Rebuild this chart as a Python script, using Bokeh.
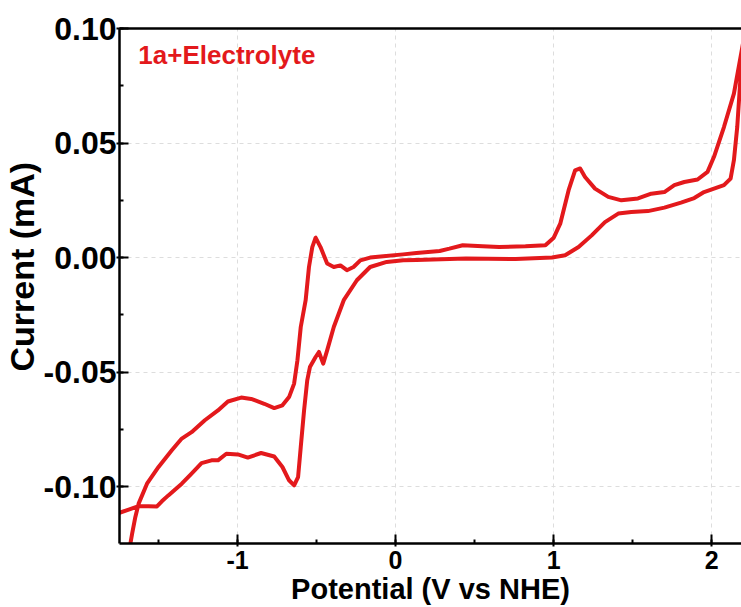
from bokeh.plotting import figure
from bokeh.models import (Range1d, SingleIntervalTicker, NumeralTickFormatter, FixedTicker,
                          LinearAxis, Label, Title, ColumnDataSource)
from bokeh.embed import file_html
from bokeh.resources import INLINE

# Cyclic voltammogram: forward (lower) branch then reverse (upper) branch
potential_fwd = [-1.80, -1.747, -1.689, -1.626, -1.563, -1.510, -1.479, -1.438, -1.353, -1.291,
                 -1.228, -1.165, -1.124, -1.071, -0.998, -0.935, -0.851, -0.768, -0.716, -0.674,
                 -0.642, -0.617, -0.600, -0.579, -0.559, -0.542, -0.506, -0.485, -0.458, -0.433,
                 -0.391, -0.328, -0.245, -0.161, -0.056, 0.048, 0.132, 0.446, 0.760, 0.990,
                 1.073, 1.158, 1.241, 1.325, 1.409, 1.492, 1.597, 1.701, 1.806, 1.890,
                 1.952, 2.015, 2.078, 2.120, 2.141, 2.162, 2.183, 2.205]
current_fwd = [-0.1120, -0.1114, -0.1100, -0.1085, -0.1085, -0.1086, -0.1064, -0.1038, -0.0987, -0.0943,
               -0.0897, -0.0885, -0.0885, -0.0856, -0.0859, -0.0873, -0.0853, -0.0868, -0.0914, -0.0972,
               -0.0994, -0.0958, -0.0827, -0.0667, -0.0536, -0.0478, -0.0434, -0.0412, -0.0463, -0.0405,
               -0.0303, -0.0186, -0.0099, -0.0041, -0.0019, -0.0012, -0.0010, -0.0004, -0.0006, 0.0000,
               0.0010, 0.0046, 0.0097, 0.0155, 0.0192, 0.0199, 0.0203, 0.0218, 0.0240, 0.0260,
               0.0286, 0.0301, 0.0316, 0.0345, 0.0425, 0.0570, 0.0789, 0.0960]

potential_rev = [2.141, 2.078, 2.015, 1.974, 1.911, 1.827, 1.764, 1.701, 1.618, 1.534,
                 1.429, 1.346, 1.262, 1.199, 1.168, 1.136, 1.095, 1.042, 1.001, 0.948,
                 0.822, 0.655, 0.551, 0.425, 0.341, 0.279, 0.132, 0.048, -0.077, -0.161,
                 -0.223, -0.266, -0.308, -0.349, -0.391, -0.433, -0.475, -0.506, -0.527, -0.548,
                 -0.569, -0.600, -0.621, -0.642, -0.674, -0.716, -0.768, -0.831, -0.914, -0.977,
                 -1.061, -1.124, -1.207, -1.291, -1.353, -1.416, -1.500, -1.573, -1.626, -1.647,
                 -1.667, -1.678, -1.690]
current_rev = [0.0716, 0.0570, 0.0440, 0.0374, 0.0341, 0.0330, 0.0316, 0.0286, 0.0279, 0.0258,
               0.0250, 0.0265, 0.0301, 0.0352, 0.0389, 0.0381, 0.0294, 0.0148, 0.0087, 0.0054,
               0.0049, 0.0046, 0.0049, 0.0054, 0.0039, 0.0029, 0.0020, 0.0014, 0.0006, 0.0000,
               -0.0012, -0.0041, -0.0055, -0.0034, -0.0041, -0.0026, 0.0046, 0.0087, 0.0046, -0.0041,
               -0.0186, -0.0303, -0.0448, -0.0550, -0.0609, -0.0645, -0.0657, -0.0638, -0.0617, -0.0611,
               -0.0628, -0.0667, -0.0710, -0.0762, -0.0790, -0.0841, -0.0914, -0.0987, -0.1074, -0.1133,
               -0.1205, -0.1248, -0.1350]

x_ticks_interval = 1
y_ticks_interval = 0.05
series_label = "1a+Electrolyte"
x_title = "Potential (V vs NHE)"
y_title = "Current (mA)"

RED = "#e3191c"
FONT = "Liberation Sans"

p = figure(width=741, height=607, output_backend="svg", toolbar_location=None,
           x_range=Range1d(-1.747, 2.189), y_range=Range1d(-0.1248, 0.10),
           min_border_left=114, min_border_right=0, min_border_top=28, min_border_bottom=64)
p.outline_line_color = None
p.background_fill_color = "white"
p.border_fill_color = "white"

src = ColumnDataSource(dict(x=potential_fwd + potential_rev, y=current_fwd + current_rev))
p.line("x", "y", source=src, line_color=RED, line_width=4, line_join="round", line_cap="round")

p.xaxis.ticker = SingleIntervalTicker(interval=x_ticks_interval, num_minor_ticks=2)
p.yaxis.ticker = SingleIntervalTicker(interval=y_ticks_interval, num_minor_ticks=2)
p.xaxis.formatter = NumeralTickFormatter(format="0")
p.yaxis.formatter = NumeralTickFormatter(format="0.00")

for ax in (p.xaxis[0], p.yaxis[0]):
    ax.axis_line_color = "black"
    ax.axis_line_width = 2.5
    ax.major_tick_line_color = "black"
    ax.major_tick_line_width = 2
    ax.minor_tick_line_color = "black"
    ax.minor_tick_line_width = 2
    ax.major_tick_in = 9
    ax.major_tick_out = 3
    ax.minor_tick_in = 4
    ax.minor_tick_out = 0
    ax.major_label_text_font = FONT
    ax.major_label_text_font_style = "bold"
    ax.major_label_text_color = "black"
    ax.axis_label_text_font = FONT
    ax.axis_label_text_font_style = "bold"
    ax.axis_label_text_color = "black"

p.xaxis.axis_label = x_title
p.xaxis.major_label_text_font_size = "25px"
p.yaxis.major_label_text_font_size = "32px"
p.xaxis.axis_label_text_font_size = "29px"
p.xaxis.major_label_standoff = 4
p.yaxis.major_label_standoff = 0
p.xaxis.axis_label_standoff = 1

top = LinearAxis(ticker=FixedTicker(ticks=[]), axis_line_color="black", axis_line_width=2.5)
p.add_layout(top, "above")

for g in (p.xgrid[0], p.ygrid[0]):
    g.grid_line_color = "#dddddd"
    g.grid_line_dash = "4 4"
    g.grid_line_width = 1

# y-axis title: a side title, placed higher than the frame centre as in the reference
p.add_layout(Title(text=y_title, align="left", offset=172, standoff=0,
                   text_color="black", text_font=FONT, text_font_style="bold",
                   text_font_size="34px"), "left")

p.add_layout(Label(x=-1.628, y=0.0885, text=series_label, text_color=RED,
                   text_font=FONT, text_font_style="bold", text_font_size="26px",
                   text_baseline="alphabetic"))

open("out.html", "w").write(file_html(p, INLINE))
